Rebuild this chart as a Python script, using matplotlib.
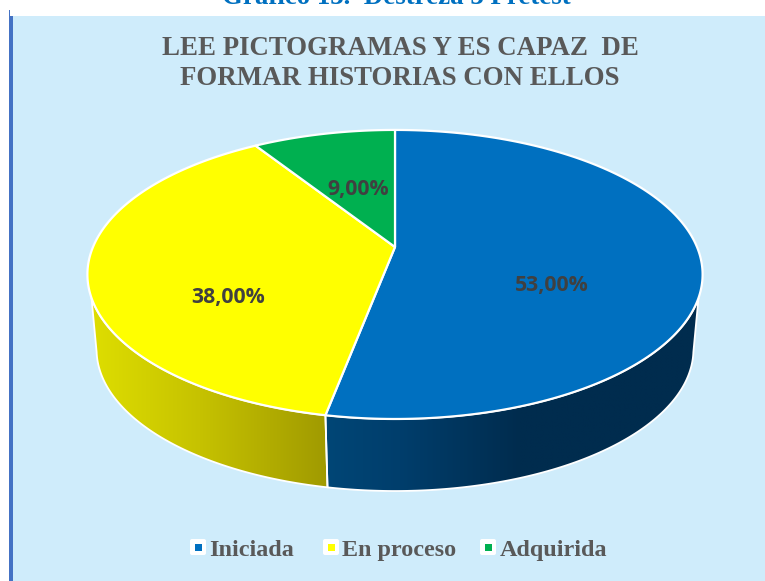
import numpy as np
import matplotlib
matplotlib.use("Agg")
import matplotlib.pyplot as plt
from matplotlib.patches import Polygon, Rectangle, FancyBboxPatch
from matplotlib.colors import LinearSegmentedColormap

categories = ["Iniciada", "En proceso", "Adquirida"]
values = [53.0, 38.0, 9.0]
colors = ["#0070C0", "#FFFF00", "#00B050"]
chart_title = "LEE PICTOGRAMAS Y ES CAPAZ  DE\nFORMAR HISTORIAS CON ELLOS"
doc_caption = "Gráfico 13.  Destreza 3 Pretest"

W, H = 765, 581
fig = plt.figure(figsize=(W / 100, H / 100), dpi=100, facecolor="white")
ax = fig.add_axes([0, 0, 1, 1])
ax.set_xlim(0, W)
ax.set_ylim(H, 0)
ax.axis("off")

ax.add_patch(Rectangle((13, 16), W - 13, H - 16, fc="#CFECFB", ec="none", zorder=0))
ax.add_patch(Rectangle((9, 16), 4, H - 16, fc="#4472C4", ec="none", zorder=1))
ax.add_patch(Rectangle((9, 10), 1, 6, fc="#4472C4", ec="none", zorder=1))

SERIF = "Liberation Serif"
ax.text(396, 4, doc_caption, family=SERIF, weight="bold", fontsize=19.4, color="#0070C0",
        ha="center", va="baseline", zorder=1)
ax.text(400, 63.5, chart_title, family=SERIF, weight="bold", fontsize=19.35, color="#595959",
        ha="center", va="center", linespacing=1.27, zorder=2)

K = 0.19
CX = 395


def rim(theta_deg, y0, a, b):
    t = np.radians(theta_deg)
    u, v = np.sin(t), np.cos(t)
    d = 1 + K * v
    return np.column_stack([CX + b * u / d, y0 + (-a * v) / d])


def top(t):
    return rim(t, 247.0, 139.3, 302.0)


def bottom(t):
    return rim(t, 322.5, 136.5, 293.0)


fracs = np.array(values) / sum(values)
edges = np.concatenate([[0], np.cumsum(fracs) * 360])


def gradient_side(theta0_top, theta1_top, theta0_bot, theta1_bot, xs, cols):
    poly = np.vstack([
        top(np.linspace(theta0_top, theta1_top, 120)),
        bottom(np.linspace(theta1_bot, theta0_bot, 120)),
    ])
    patch = Polygon(poly, closed=True, fc="none", ec="none", zorder=3, transform=ax.transData)
    ax.add_patch(patch)
    x0, x1 = poly[:, 0].min(), poly[:, 0].max()
    pos = (np.array(xs) - x0) / (x1 - x0)
    pos = np.clip(pos, 0, 1)
    pos[0], pos[-1] = 0, 1
    cmap = LinearSegmentedColormap.from_list("g", list(zip(pos, cols)))
    im = ax.imshow(np.linspace(0, 1, 256)[None, :], cmap=cmap, aspect="auto", zorder=3,
                   extent=[x0, x1, poly[:, 1].max(), poly[:, 1].min()], interpolation="bilinear")
    im.set_clip_path(patch)
    outline = Polygon(poly, closed=True, fc="none", ec="white", lw=1.3, zorder=4, joinstyle="round")
    ax.add_patch(outline)


gradient_side(110, edges[1], 102, edges[1], [328, 400, 520, 700],
              ["#004676", "#003E6C", "#002C4E", "#002C4E"])
gradient_side(edges[1], 250, edges[1], 258, [92, 200, 328],
              ["#DEDE00", "#C6C200", "#A09A00"])
ax.set_xlim(0, W)
ax.set_ylim(H, 0)

for i, (c, cat) in enumerate(zip(colors, categories)):
    t = np.linspace(edges[i], edges[i + 1], 200)
    pts = np.vstack([[CX, 247.0], top(t)])
    ax.add_patch(Polygon(pts, closed=True, fc=c, ec="white", lw=1.6, zorder=5, joinstyle="round"))

label_xy = [(552, 285), (228, 297), (358, 189)]
for v, (x, y) in zip(values, label_xy):
    ax.text(x, y, f"{v:.2f}".replace(".", ",") + "%", family="Open Sans", weight="bold", fontsize=15.3,
            color="#404040", ha="center", va="center", zorder=6)

leg_box = [190, 323, 480]
leg_text = [209, 342, 500]
for bx, tx, c, cat in zip(leg_box, leg_text, colors, categories):
    ax.add_patch(FancyBboxPatch((bx + 1, 540), 14, 14, boxstyle="round,pad=1,rounding_size=2",
                                fc="white", ec="none", zorder=2))
    ax.add_patch(Rectangle((bx + 5, 544), 7, 7, fc=c, ec="none", zorder=3))
    ax.text(tx, 556, cat, family=SERIF, weight="bold", fontsize=17.4, color="#595959",
            ha="left", va="baseline", zorder=3)

fig.savefig("out.png", dpi=100, facecolor="white")
